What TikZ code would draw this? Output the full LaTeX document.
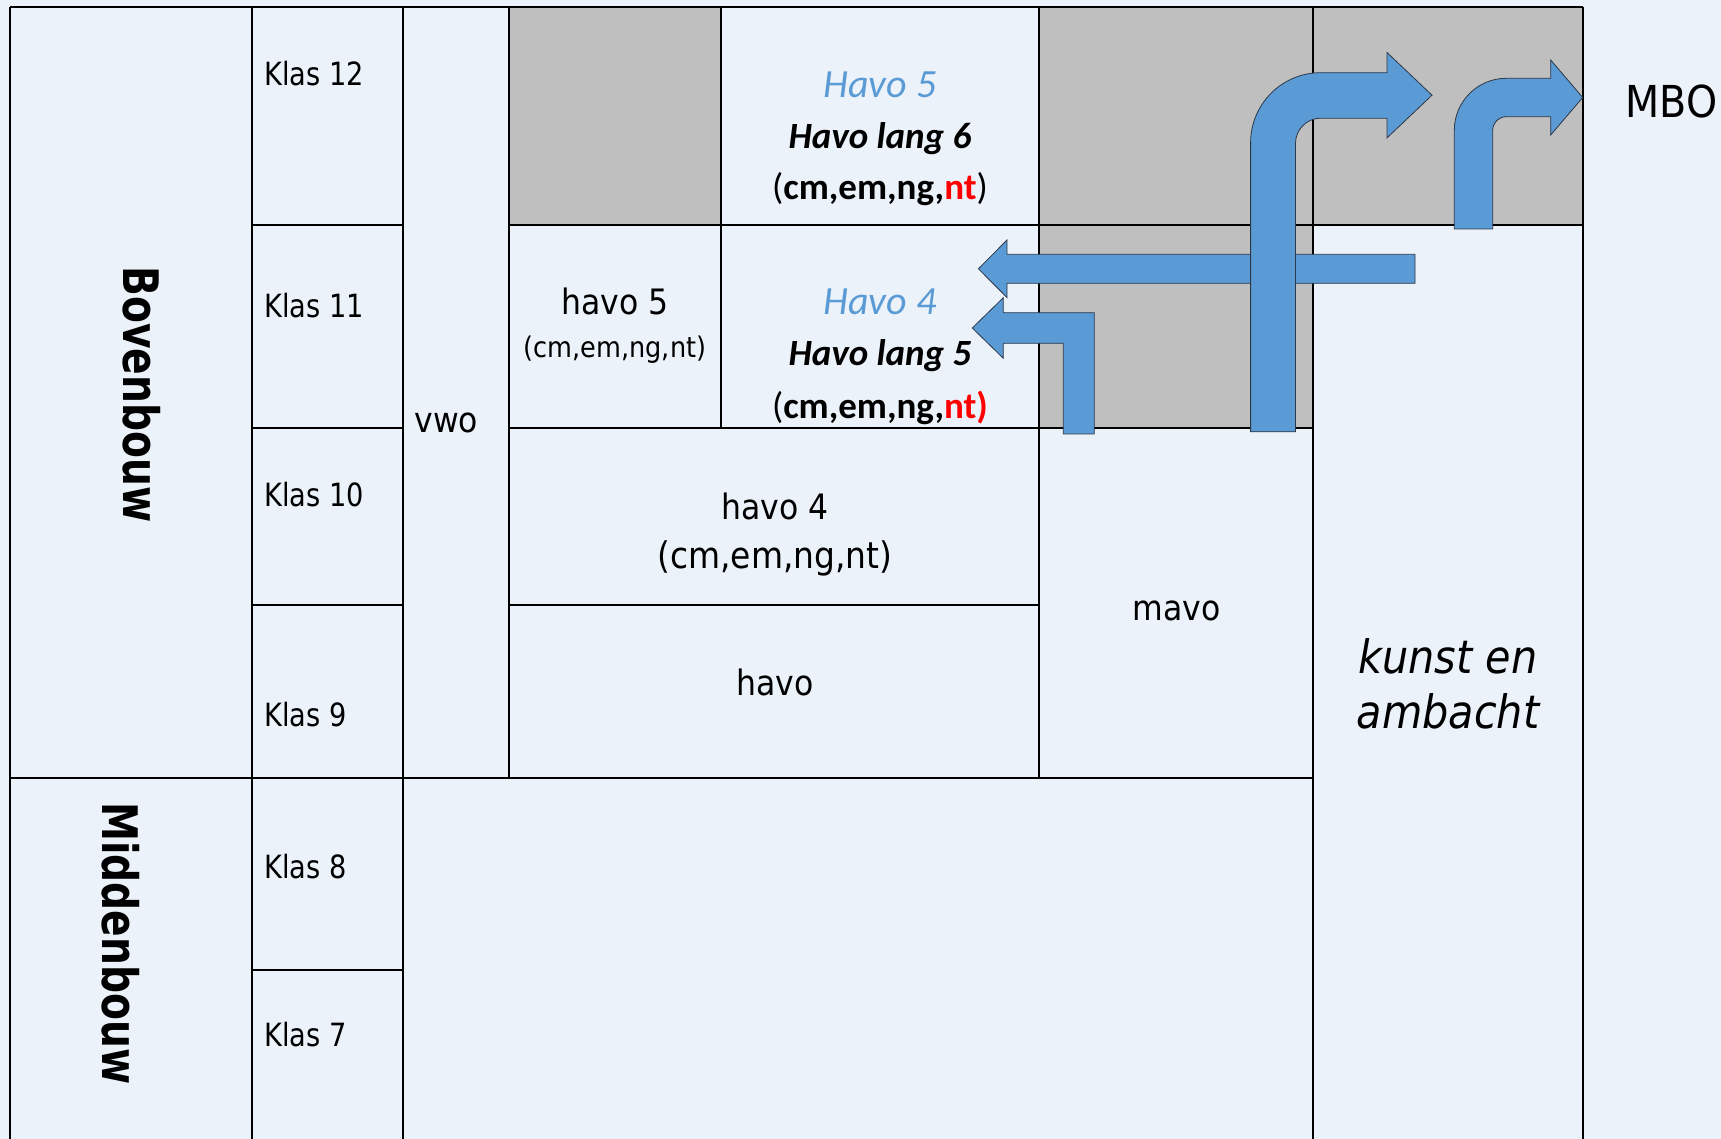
\documentclass[tikz,border=0pt]{standalone}
\usepackage{fontspec}
\newfontfamily\tahfont[FakeStretch=0.9, ItalicFont={DejaVu Sans Oblique}, BoldFont={DejaVu Sans Bold}]{DejaVu Sans}
\newfontfamily\klasfont[FakeStretch=0.85]{DejaVu Sans}
\newfontfamily\boufont[FakeStretch=0.8]{DejaVu Sans Bold}
\newfontfamily\calfont{Carlito}
\definecolor{bg}{RGB}{235,242,250}
\definecolor{greycell}{RGB}{191,191,191}
\definecolor{arrowblue}{RGB}{91,155,213}
\definecolor{arrowedge}{RGB}{45,55,70}
\definecolor{redtxt}{RGB}{255,0,0}
\begin{document}
\begin{tikzpicture}[x=0.5pt, y=-0.5pt,
  gridline/.style={line width=1.2pt, draw=black},
  greyfill/.style={fill=greycell},
  klas/.style={anchor=base west, inner sep=0pt, font=\klasfont\fontsize{16}{19}\selectfont},
  lbl/.style={anchor=base, inner sep=0pt, font=\tahfont\fontsize{17.5}{21}\selectfont},
  smalllbl/.style={anchor=base, inner sep=0pt, font=\tahfont\fontsize{14.2}{17}\selectfont},
  bou/.style={anchor=base, inner sep=0pt, rotate=-90, font=\boufont\fontsize{24.5}{29}\selectfont},
  havoblue/.style={anchor=base, inner sep=0pt, text=arrowblue, font=\calfont\itshape\fontsize{20}{24}\selectfont},
  havolang/.style={anchor=base, inner sep=0pt, font=\calfont\bfseries\itshape\fontsize{18.5}{22}\selectfont},
  subj/.style={anchor=base, inner sep=0pt, font=\calfont\fontsize{18.5}{22}\selectfont},
  kunst/.style={anchor=base, inner sep=0pt, font=\tahfont\itshape\fontsize{23}{27.5}\selectfont},
  mbo/.style={anchor=base west, inner sep=0pt, font=\tahfont\fontsize{22}{26}\selectfont},
  arr/.style={fill=arrowblue, draw=arrowedge, line width=0.4pt, line join=miter}
]
\useasboundingbox (0,0) rectangle (1721,1139);
\fill[bg] (0,0) rectangle (1721,1139);

% grey cells
\fill[greyfill] (509,7) rectangle (721,225);
\fill[greyfill] (1039,7) rectangle (1313,428);
\fill[greyfill] (1313,7) rectangle (1583,225);

% grid lines
\draw[gridline] (10,7) -- (1583,7);
\draw[gridline] (10,7) -- (10,1139);
\draw[gridline] (252,7) -- (252,1139);
\draw[gridline] (403,7) -- (403,1139);
\draw[gridline] (509,7) -- (509,778);
\draw[gridline] (721,7) -- (721,428);
\draw[gridline] (1039,7) -- (1039,778);
\draw[gridline] (1313,7) -- (1313,1139);
\draw[gridline] (1583,7) -- (1583,1139);
\draw[gridline] (252,225) -- (403,225);
\draw[gridline] (509,225) -- (1583,225);
\draw[gridline] (252,428) -- (403,428);
\draw[gridline] (509,428) -- (1313,428);
\draw[gridline] (252,605) -- (403,605);
\draw[gridline] (509,605) -- (1039,605);
\draw[gridline] (10,778) -- (1313,778);
\draw[gridline] (252,970) -- (403,970);

% side labels
\node[bou] (bovenbouw) at (123,394.5) {Bovenbouw};
\node[bou] (middenbouw) at (102,943.5) {Middenbouw};

% klas labels
\node[klas] (klas12) at (264,85.5) {Klas 12};
\node[klas] (klas11) at (264,318) {Klas 11};
\node[klas] (klas10) at (264,507) {Klas 10};
\node[klas] (klas9) at (264,726) {Klas 9};
\node[klas] (klas8) at (264,878.5) {Klas 8};
\node[klas] (klas7) at (264,1046) {Klas 7};

% column texts
\node[lbl, anchor=base west] (vwo) at (414,432.7) {vwo};
\node[lbl] (havo5) at (615,314.5) {havo 5};
\node[smalllbl] (havo5sub) at (615,358) {(cm,em,ng,nt)};
\node[lbl] (havo4) at (775,519) {havo 4};
\node[lbl, font=\tahfont\fontsize{18.3}{22}\selectfont] (havo4sub) at (775,568.3) {(cm,em,ng,nt)};
\node[lbl] (havo) at (775,695) {havo};
\node[lbl] (mavo) at (1176.5,620.4) {mavo};
\node[kunst] (kunst1) at (1448,673) {kunst en};
\node[kunst] (kunst2) at (1448,728) {ambacht};
\node[mbo] (mbo) at (1625,118) {MBO};

% Havo lang cells
\node[havoblue] (Havo5) at (880,97.3) {Havo 5};
\node[havolang] (lang6) at (880,148.3) {Havo lang 6};
\node[subj] (subj6) at (880,200) {({\bfseries cm,em,ng,\textcolor{redtxt}{nt}})};
\node[havoblue] (Havo4) at (880,315) {Havo 4};
\node[havolang] (lang5) at (880,366) {Havo lang 5};
\node[subj] (subj5) at (880,418.3) {({\bfseries cm,em,ng,\textcolor{redtxt}{nt)}}};

% arrows
\draw[arr] (1415,254.3) -- (1007,254.3) -- (1007,240) -- (978.4,268.8) -- (1007,297.6) -- (1007,283.3) -- (1415,283.3) -- cycle;
\draw[arr] (1094.3,434) -- (1094.3,312.7) -- (1003.3,312.7) -- (1003.3,297.7) -- (972.3,328) -- (1003.3,358.3) -- (1003.3,343.3) -- (1063.3,343.3) -- (1063.3,434) -- cycle;
\draw[arr] (1250.6,431.8) -- (1250.6,142.7)
  .. controls (1250.6,104) and (1282,72.7) .. (1320.6,72.7)
  -- (1387,72.7) -- (1387,52.5) -- (1432,95.2) -- (1387,137.9) -- (1387,118.2) -- (1320.6,118.2)
  .. controls (1306.8,118.2) and (1295.5,129.5) .. (1295.5,143.2)
  -- (1295.5,431.8) -- cycle;
\draw[arr] (1454.3,229) -- (1454.3,130.3)
  .. controls (1454.3,101.6) and (1477.6,78.3) .. (1506.3,78.3)
  -- (1550.7,78.3) -- (1550.7,60) -- (1582.7,97.5) -- (1550.7,135) -- (1550.7,116.7) -- (1506.3,116.7)
  .. controls (1498.6,116.7) and (1492.7,122.6) .. (1492.7,130.3)
  -- (1492.7,229) -- cycle;
\end{tikzpicture}
\end{document}
